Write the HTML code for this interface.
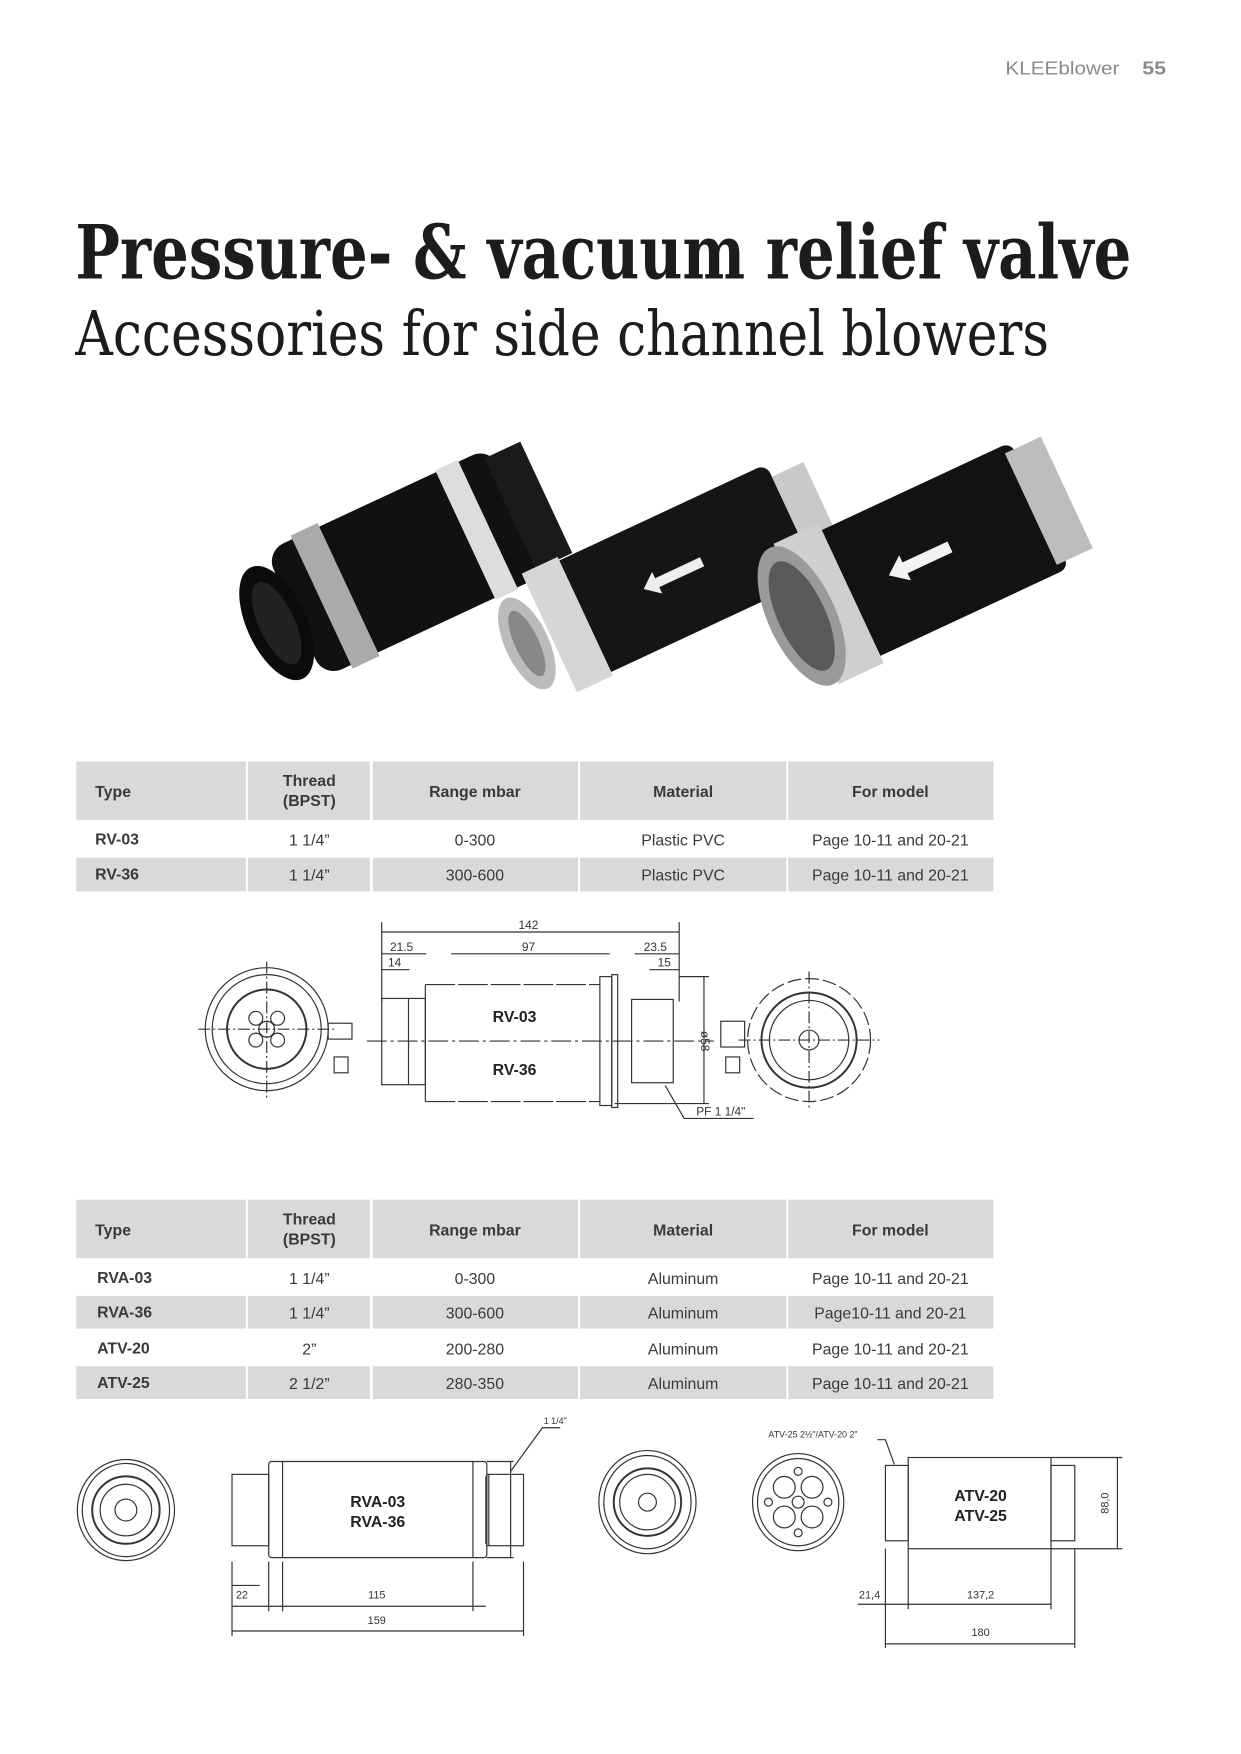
<!DOCTYPE html>
<html><head><meta charset="utf-8"><style>html,body{margin:0;padding:0;background:#fff}svg{display:block}</style></head><body>
<svg width="1241" height="1754" viewBox="0 0 1241 1754" xmlns="http://www.w3.org/2000/svg" font-family="Liberation Sans, sans-serif">
<g transform="scale(0.9915)">
<text x="1129" y="75" font-size="19" fill="#8a8a8a" text-anchor="end" textLength="115" lengthAdjust="spacingAndGlyphs">KLEEblower</text>
<text x="1152" y="75" font-size="19" font-weight="bold" fill="#8a8a8a" textLength="24" lengthAdjust="spacingAndGlyphs">55</text>
<text x="76" y="281" font-family="DejaVu Serif, Liberation Serif, serif" font-weight="bold" font-size="76" fill="#1e1b1b" textLength="1065" lengthAdjust="spacingAndGlyphs">Pressure- &amp; vacuum relief valve</text>
<text x="76" y="358" font-family="DejaVu Serif, Liberation Serif, serif" font-size="62" fill="#1e1b1b" textLength="982" lengthAdjust="spacingAndGlyphs">Accessories for side channel blowers</text>

<g>
 <g transform="translate(415,565) rotate(-25)">
  <rect x="-130" y="-70" width="250" height="140" rx="20" fill="#111"/>
  <rect x="110" y="-62" width="40" height="124" fill="#1a1a1a"/>
  <rect x="60" y="-72" width="25" height="144" fill="#ddd"/>
  <rect x="-100" y="-74" width="30" height="148" fill="#aaa"/>
  <ellipse cx="-150" cy="0" rx="30" ry="62" fill="#0b0b0b"/>
  <ellipse cx="-150" cy="0" rx="18" ry="45" fill="#222"/>
 </g>
 <g transform="translate(690,575) rotate(-25)">
  <rect x="-130" y="-62" width="250" height="124" rx="10" fill="#151515"/>
  <rect x="-150" y="-66" width="40" height="132" fill="#d6d6d6"/>
  <rect x="120" y="-48" width="35" height="96" fill="#c9c9c9"/>
  <ellipse cx="-175" cy="0" rx="22" ry="50" fill="#bbb"/>
  <ellipse cx="-175" cy="0" rx="12" ry="36" fill="#888"/>
  <polygon points="-20,-5 30,-5 30,-12 45,0 30,12 30,5 -20,5" fill="#eee" transform="rotate(180)"/>
 </g>
 <g transform="translate(940,560) rotate(-25)">
  <rect x="-110" y="-70" width="230" height="140" rx="10" fill="#121212"/>
  <rect x="-140" y="-78" width="50" height="156" fill="#cfcfcf"/>
  <rect x="110" y="-62" width="40" height="124" fill="#bdbdbd"/>
  <ellipse cx="-145" cy="0" rx="34" ry="76" fill="#9a9a9a"/>
  <ellipse cx="-145" cy="0" rx="24" ry="60" fill="#5a5a5a"/>
  <polygon points="-20,-6 30,-6 30,-14 48,0 30,14 30,6 -20,6" fill="#f2f2f2" transform="rotate(180)"/>
 </g>
</g>

<g fill="#d9d9d9">
 <rect x="77" y="768" width="171" height="59"/><rect x="250" y="768" width="123" height="59"/><rect x="376" y="768" width="207" height="59"/><rect x="585" y="768" width="208" height="59"/><rect x="795" y="768" width="207" height="59"/>
 <rect x="77" y="865" width="171" height="34"/><rect x="250" y="865" width="123" height="34"/><rect x="376" y="865" width="207" height="34"/><rect x="585" y="865" width="208" height="34"/><rect x="795" y="865" width="207" height="34"/>
</g>
<g font-size="16" fill="#3a3a3a">
 <g font-weight="bold" text-anchor="middle"><text x="96" y="804" text-anchor="start">Type</text><text x="312" y="793">Thread</text><text x="312" y="813">(BPST)</text><text x="479" y="804">Range mbar</text><text x="689" y="804">Material</text><text x="898" y="804">For model</text></g>
 <text x="96" y="852" font-weight="bold">RV-03</text><text x="96" y="887" font-weight="bold">RV-36</text>
 <g text-anchor="middle"><text x="312" y="853">1 1/4”</text><text x="479" y="853">0-300</text><text x="689" y="853">Plastic PVC</text><text x="898" y="853">Page 10-11 and 20-21</text>
 <text x="312" y="888">1 1/4”</text><text x="479" y="888">300-600</text><text x="689" y="888">Plastic PVC</text><text x="898" y="888">Page 10-11 and 20-21</text></g>
</g>

<g fill="none" stroke="#333" stroke-width="1.2">
 <circle cx="269" cy="1038" r="62"/><circle cx="269" cy="1038" r="55"/><circle cx="269" cy="1038" r="40" stroke-width="2"/>
 <circle cx="269" cy="1038" r="8"/><circle cx="258" cy="1027" r="7"/><circle cx="280" cy="1027" r="7"/><circle cx="258" cy="1049" r="7"/><circle cx="280" cy="1049" r="7"/>
 <line x1="200" y1="1038" x2="338" y2="1038" stroke-dasharray="12,3,2,3"/><line x1="269" y1="970" x2="269" y2="1108" stroke-dasharray="12,3,2,3"/>
 <rect x="331" y="1032" width="24" height="16"/><rect x="337" y="1066" width="14" height="16"/>
 <rect x="385" y="1007" width="44" height="87"/><line x1="412" y1="1007" x2="412" y2="1094"/>
 <path d="M429 993 L605 993 M429 1111 L605 1111" stroke-dasharray="30,3"/><line x1="429" y1="993" x2="429" y2="1111"/>
 <rect x="605" y="985" width="12" height="130"/><rect x="617" y="983" width="6" height="134"/>
 <rect x="637" y="1008" width="42" height="84"/>
 <line x1="370" y1="1050" x2="720" y2="1050" stroke-dasharray="20,4,3,4"/>
 <line x1="385" y1="940" x2="685" y2="940"/><line x1="385" y1="962" x2="430" y2="962"/><line x1="455" y1="962" x2="615" y2="962"/><line x1="640" y1="962" x2="685" y2="962"/>
 <line x1="385" y1="978" x2="413" y2="978"/><line x1="655" y1="978" x2="685" y2="978"/>
 <line x1="385" y1="930" x2="385" y2="1010"/><line x1="685" y1="930" x2="685" y2="1010"/>
 <line x1="710" y1="985" x2="710" y2="1113"/><line x1="685" y1="985" x2="715" y2="985"/><line x1="620" y1="1113" x2="715" y2="1113"/>
 <polyline points="671,1095 690,1128 760,1128"/>
 <circle cx="816" cy="1049" r="62" stroke-dasharray="14,4"/><circle cx="816" cy="1049" r="48" stroke-width="2"/><circle cx="816" cy="1049" r="40"/><circle cx="816" cy="1049" r="10"/>
 <line x1="745" y1="1049" x2="887" y2="1049" stroke-dasharray="12,3,2,3"/><line x1="816" y1="980" x2="816" y2="1118" stroke-dasharray="12,3,2,3"/>
 <rect x="727" y="1030" width="24" height="26"/><rect x="732" y="1066" width="14" height="16"/>
</g>
<g font-size="12" fill="#333" text-anchor="middle"><text x="533" y="937">142</text><text x="405" y="959">21.5</text><text x="533" y="959">97</text><text x="661" y="959">23.5</text><text x="398" y="975">14</text><text x="670" y="975">15</text><text x="727" y="1125">PF 1 1/4"</text><text transform="translate(707,1050) rotate(90)">ø58</text></g>
<g font-size="16" font-weight="bold" fill="#222" text-anchor="middle"><text x="519" y="1031">RV-03</text><text x="519" y="1084">RV-36</text></g>

<g fill="#d9d9d9">
 <rect x="77" y="1210" width="171" height="59"/><rect x="250" y="1210" width="123" height="59"/><rect x="376" y="1210" width="207" height="59"/><rect x="585" y="1210" width="208" height="59"/><rect x="795" y="1210" width="207" height="59"/>
 <rect x="77" y="1307" width="171" height="33"/><rect x="250" y="1307" width="123" height="33"/><rect x="376" y="1307" width="207" height="33"/><rect x="585" y="1307" width="208" height="33"/><rect x="795" y="1307" width="207" height="33"/>
 <rect x="77" y="1378" width="171" height="33"/><rect x="250" y="1378" width="123" height="33"/><rect x="376" y="1378" width="207" height="33"/><rect x="585" y="1378" width="208" height="33"/><rect x="795" y="1378" width="207" height="33"/>
</g>
<g font-size="16" fill="#3a3a3a">
 <g font-weight="bold" text-anchor="middle"><text x="96" y="1246" text-anchor="start">Type</text><text x="312" y="1235">Thread</text><text x="312" y="1255">(BPST)</text><text x="479" y="1246">Range mbar</text><text x="689" y="1246">Material</text><text x="898" y="1246">For model</text></g>
 <g font-weight="bold"><text x="98" y="1294">RVA-03</text><text x="98" y="1329">RVA-36</text><text x="98" y="1365">ATV-20</text><text x="98" y="1400">ATV-25</text></g>
 <g text-anchor="middle">
  <text x="312" y="1295">1 1/4”</text><text x="479" y="1295">0-300</text><text x="689" y="1295">Aluminum</text><text x="898" y="1295">Page 10-11 and 20-21</text>
  <text x="312" y="1330">1 1/4”</text><text x="479" y="1330">300-600</text><text x="689" y="1330">Aluminum</text><text x="898" y="1330">Page10-11 and 20-21</text>
  <text x="312" y="1366">2”</text><text x="479" y="1366">200-280</text><text x="689" y="1366">Aluminum</text><text x="898" y="1366">Page 10-11 and 20-21</text>
  <text x="312" y="1401">2 1/2”</text><text x="479" y="1401">280-350</text><text x="689" y="1401">Aluminum</text><text x="898" y="1401">Page 10-11 and 20-21</text>
 </g>
</g>

<g fill="none" stroke="#333" stroke-width="1.2">
 <ellipse cx="127" cy="1523" rx="49" ry="51"/><ellipse cx="127" cy="1523" rx="44" ry="47"/><circle cx="127" cy="1523" r="34" stroke-width="2"/><circle cx="127" cy="1523" r="26"/><circle cx="127" cy="1523" r="11"/>
 <rect x="234" y="1487" width="37" height="72"/><rect x="271" y="1474" width="220" height="97" rx="3"/><line x1="285" y1="1474" x2="285" y2="1571"/><line x1="477" y1="1474" x2="477" y2="1571"/><rect x="491" y="1487" width="37" height="72"/>
 <line x1="491" y1="1474" x2="518" y2="1474"/><line x1="491" y1="1571" x2="518" y2="1571"/><line x1="515" y1="1474" x2="515" y2="1571"/><line x1="493" y1="1487" x2="493" y2="1559"/><line x1="490" y1="1489" x2="490" y2="1557"/>
 <polyline points="515,1484 547,1440 565,1440"/>
 <line x1="234" y1="1599" x2="262" y2="1599"/><line x1="234" y1="1620" x2="490" y2="1620"/><line x1="234" y1="1645" x2="528" y2="1645"/>
 <line x1="234" y1="1575" x2="234" y2="1650"/><line x1="528" y1="1575" x2="528" y2="1650"/><line x1="271" y1="1575" x2="271" y2="1625"/><line x1="285" y1="1575" x2="285" y2="1625"/><line x1="477" y1="1575" x2="477" y2="1625"/>
 <ellipse cx="653" cy="1515" rx="49" ry="52"/><ellipse cx="653" cy="1515" rx="44" ry="47"/><circle cx="653" cy="1515" r="34" stroke-width="2"/><circle cx="653" cy="1515" r="28"/><circle cx="653" cy="1515" r="9"/>
 <ellipse cx="805" cy="1515" rx="46" ry="49"/><ellipse cx="805" cy="1515" rx="41" ry="44"/><circle cx="805" cy="1515" r="6"/>
 <circle cx="791" cy="1500" r="11"/><circle cx="819" cy="1500" r="11"/><circle cx="791" cy="1530" r="11"/><circle cx="819" cy="1530" r="11"/><circle cx="805" cy="1484" r="4"/><circle cx="805" cy="1546" r="4"/><circle cx="775" cy="1515" r="4"/><circle cx="835" cy="1515" r="4"/>
 <rect x="893" y="1478" width="23" height="76"/><rect x="916" y="1470" width="144" height="92"/><rect x="1060" y="1478" width="24" height="76"/>
 <line x1="1060" y1="1470" x2="1132" y2="1470"/><line x1="1060" y1="1562" x2="1132" y2="1562"/><line x1="1127" y1="1470" x2="1127" y2="1562"/>
 <polyline points="902,1477 893,1452 885,1452"/>
 <line x1="893" y1="1562" x2="893" y2="1662"/><line x1="916" y1="1562" x2="916" y2="1623"/><line x1="1060" y1="1562" x2="1060" y2="1623"/><line x1="1084" y1="1562" x2="1084" y2="1662"/>
 <line x1="865" y1="1618" x2="916" y2="1618"/><line x1="916" y1="1618" x2="1060" y2="1618"/><line x1="893" y1="1658" x2="1084" y2="1658"/>
</g>
<g font-size="11" fill="#333" text-anchor="middle"><text x="244" y="1612">22</text><text x="380" y="1612">115</text><text x="380" y="1638">159</text><text x="877" y="1612">21,4</text><text x="989" y="1612">137,2</text><text x="989" y="1650">180</text><text x="820" y="1450" font-size="9">ATV-25 2½"/ATV-20 2"</text><text x="560" y="1436" font-size="9">1 1/4"</text><text transform="translate(1118,1516) rotate(-90)">88,0</text></g>
<g font-size="16" font-weight="bold" fill="#222" text-anchor="middle"><text x="381" y="1520">RVA-03</text><text x="381" y="1540">RVA-36</text><text x="989" y="1514">ATV-20</text><text x="989" y="1534">ATV-25</text></g>
</g>
</svg>
</body></html>
